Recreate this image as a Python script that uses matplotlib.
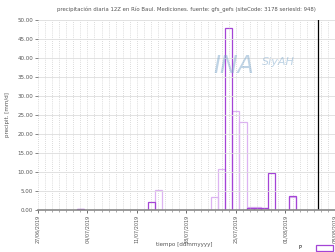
import numpy as np
import matplotlib.pyplot as plt
import matplotlib.dates as mdates
from matplotlib.ticker import FormatStrFormatter, MultipleLocator
import datetime as dt

# data
dates_p = ["2019-07-03", "2019-07-13", "2019-07-24", "2019-07-27", "2019-07-28",
           "2019-07-29", "2019-07-30", "2019-08-02"]
vals_p = [0.2, 2.0, 47.9, 0.5, 0.6, 0.4, 9.7, 3.6]

dates_q = ["2019-07-03", "2019-07-14", "2019-07-22", "2019-07-23", "2019-07-25",
           "2019-07-26", "2019-07-27", "2019-07-28", "2019-07-29", "2019-08-02"]
vals_q = [0.3, 5.3, 3.4, 10.8, 26.0, 23.2, 0.7, 0.7, 0.5, 3.4]

tick_dates = ["2019-06-27", "2019-07-04", "2019-07-11", "2019-07-18",
              "2019-07-25", "2019-08-01", "2019-08-08"]
now_line = "2019-08-05 14:00"

title = ("precipitación diaria 12Z en Río Baul. Mediciones. "
         "fuente: gfs_gefs (siteCode: 3178 seriesId: 948)")

to_dt = lambda s: [dt.datetime.fromisoformat(d) for d in s]

fig = plt.figure(figsize=(3.35, 2.52), dpi=100)
ax = fig.add_axes([0.113, 0.167, 0.887, 0.754])

ax.bar(to_dt(dates_q), vals_q, width=1.0, fill=False, edgecolor="#ddb3f2",
       linewidth=0.9, align="center")
ax.bar(to_dt(dates_p), vals_p, width=1.0, fill=False, edgecolor="#a444d6",
       linewidth=0.9, align="center", label="P")
ax.axvline(dt.datetime.fromisoformat(now_line), color="black", lw=0.9)

ax.set_xlim(dt.datetime(2019, 6, 27), dt.datetime(2019, 8, 8))
ax.set_ylim(0, 50)
ax.set_xticks(to_dt(tick_dates))
ax.xaxis.set_major_formatter(mdates.DateFormatter("%d/%m/%Y"))
ax.xaxis.set_minor_locator(mdates.DayLocator())
ax.yaxis.set_major_locator(MultipleLocator(5))
ax.yaxis.set_major_formatter(FormatStrFormatter("%.2f"))
ax.tick_params(axis="x", labelsize=3.5, rotation=90, length=2, width=0.6, pad=1.5, colors="#555555")
ax.tick_params(axis="y", labelsize=4.0, length=2, width=0.5, pad=1.5, colors="#555555")
ax.tick_params(which="minor", length=1.5, width=0.5, color="#888888")

ax.grid(axis="y", color="#dddddd", lw=0.6)
ax.grid(axis="x", which="both", color="#bbbbbb", ls=(0, (1, 2)), lw=0.5)
for s in ["top", "right", "left"]:
    ax.spines[s].set_visible(False)
ax.spines["bottom"].set_color("#888888")
ax.spines["bottom"].set_linewidth(1.2)

ax.set_title(title, fontsize=3.9, color="#555555", pad=6, x=0.5)
fig.text(0.55, 0.03, "tiempo [ddmmyyyy]", fontsize=4.0, color="#555555",
         ha="center", va="center")
ax.set_ylabel("precipit. [mm/d]", fontsize=4, color="#555555", labelpad=5)

# watermark
ax.text(0.66, 0.76, "INA", transform=ax.transAxes, fontsize=17, style="italic",
        color="#7fa9cc", alpha=0.5, ha="center", va="center")
ax.text(0.81, 0.78, "SiyAH", transform=ax.transAxes, fontsize=8, style="italic",
        color="#7fa9cc", alpha=0.5, ha="center", va="center")

ax.legend(loc="upper left", bbox_to_anchor=(0.92, -0.16), fontsize=3.5,
          frameon=False, handlelength=3.5, handleheight=1.6, handletextpad=-7.0)

fig.savefig("out.png", dpi=100)
